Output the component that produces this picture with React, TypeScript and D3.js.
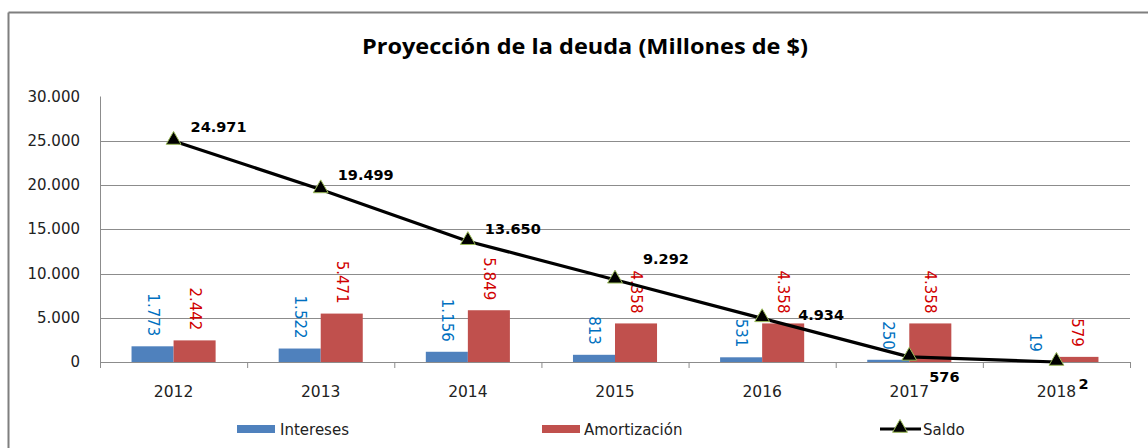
import React from "react";
import * as d3 from "d3";

const years = ["2012", "2013", "2014", "2015", "2016", "2017", "2018"];
const intereses = [1773, 1522, 1156, 813, 531, 250, 19];
const amortizacion = [2442, 5471, 5849, 4358, 4358, 4358, 579];
const saldo = [24971, 19499, 13650, 9292, 4934, 576, 2];
const yTicks = [0, 5000, 10000, 15000, 20000, 25000, 30000];

// label placement offsets for saldo labels (style only)
const saldoLabelOffsets: [number, number][] = [
  [17, -9], [17, -9], [17, -7], [28, -16], [36, 2], [20, 25], [22, 27],
];

const W = 1148;
const H = 448;
const fmt = (v: number) => d3.format(",")(v).replace(/,/g, ".");

export default function App() {
  const x = d3.scaleBand<string>().domain(years).range([100, 1130]).paddingInner(0).paddingOuter(0);
  const y = d3.scaleLinear().domain([0, 30000]).range([362, 96.5]);
  const bw = x.bandwidth();
  const barW = bw / 3.5;
  const cx = (yr: string) => (x(yr) as number) + bw / 2;
  const line = d3.line<number>().x((_, i) => cx(years[i])).y((d) => y(d));
  const tri = d3.symbol().type(d3.symbolTriangle).size(95)() as string;
  const font = "DejaVu Sans";
  const blue = "#4F81BD";
  const red = "#C0504D";
  const grid = "#8C8C8C";

  return (
    <svg width={W} height={H} style={{ position: "absolute", left: 0, top: 0, background: "#fff" }}>
      <rect x={0} y={0} width={W} height={H} fill="#fff" />
      {/* outer frame */}
      <line x1={8.5} y1={12.5} x2={W} y2={12.5} stroke="#7F7F7F" strokeWidth={2} />
      <line x1={8.5} y1={12.5} x2={8.5} y2={H} stroke="#7F7F7F" strokeWidth={2} />

      <text x={585} y={54} textAnchor="middle" fontFamily="Open Sans" fontWeight={700} fontSize={21}
        textLength={446} lengthAdjust="spacingAndGlyphs" fill="#000">
        Proyección de la deuda (Millones de $)
      </text>

      {/* gridlines */}
      {yTicks.filter((t) => t > 0 && t < 30000).map((t) => (
        <line key={t} x1={100} x2={1130} y1={Math.round(y(t)) + 0.5} y2={Math.round(y(t)) + 0.5} stroke={grid} strokeWidth={1} />
      ))}
      {/* y tick labels */}
      {yTicks.map((t) => (
        <text key={t} x={80} y={y(t) + 5} textAnchor="end" fontFamily={font} fontSize={15} fill="#222">
          {fmt(t)}
        </text>
      ))}
      {/* y axis */}
      <line x1={100.5} x2={100.5} y1={96.5} y2={368} stroke={grid} strokeWidth={1} />

      {/* bars */}
      {years.map((yr, i) => {
        const x0 = (x(yr) as number) + (bw - 2 * barW) / 2;
        return (
          <g key={yr}>
            <rect x={x0} y={y(intereses[i])} width={barW} height={y(0) - y(intereses[i])} fill={blue} />
            <rect x={x0 + barW} y={y(amortizacion[i])} width={barW} height={y(0) - y(amortizacion[i])} fill={red} />
          </g>
        );
      })}

      {/* x axis */}
      <line x1={100} x2={1130} y1={362.5} y2={362.5} stroke={grid} strokeWidth={1} />
      {years.map((yr) => (
        <line key={yr} x1={(x(yr) as number) + bw + 0.5} x2={(x(yr) as number) + bw + 0.5} y1={362} y2={368} stroke={grid} />
      ))}
      {years.map((yr) => (
        <text key={yr} x={cx(yr)} y={397} textAnchor="middle" fontFamily={font} fontSize={15.5} fill="#222">
          {yr}
        </text>
      ))}

      {/* bar labels (rotated) */}
      {years.map((yr, i) => {
        const x0 = (x(yr) as number) + (bw - 2 * barW) / 2;
        const bx = x0 + barW / 2;
        const rx = x0 + barW * 1.5;
        const by = y(intereses[i]) - 10;
        const ry = y(amortizacion[i]) - 10;
        return (
          <g key={yr}>
            <text transform={`translate(${bx},${by}) rotate(90)`} textAnchor="end" dominantBaseline="central"
              fontFamily={font} fontSize={15} fill="#0070C0">{fmt(intereses[i])}</text>
            <text transform={`translate(${rx},${ry}) rotate(90)`} textAnchor="end" dominantBaseline="central"
              fontFamily={font} fontSize={15} fill="#D00000">{fmt(amortizacion[i])}</text>
          </g>
        );
      })}

      {/* saldo line */}
      <path d={line(saldo) as string} fill="none" stroke="#000" strokeWidth={3.2} strokeLinejoin="round" />
      {saldo.map((v, i) => (
        <path key={i} d={tri} transform={`translate(${cx(years[i])},${y(v) - 1})`} fill="#000" stroke="#9BBB59" strokeWidth={1} />
      ))}
      {saldo.map((v, i) => (
        <text key={i} x={cx(years[i]) + saldoLabelOffsets[i][0]} y={y(v) + saldoLabelOffsets[i][1]}
          fontFamily={font} fontWeight={700} fontSize={14.5} fill="#000">{fmt(v)}</text>
      ))}

      {/* legend */}
      <rect x={237} y={425} width={38} height={8} fill={blue} />
      <text x={280} y={435} fontFamily={font} fontSize={15} fill="#222">Intereses</text>
      <rect x={542} y={425} width={38} height={8} fill={red} />
      <text x={584} y={435} fontFamily={font} fontSize={15} fill="#222">Amortización</text>
      <line x1={880} x2={921} y1={429} y2={429} stroke="#000" strokeWidth={3} />
      <path d={tri} transform="translate(900,428)" fill="#000" stroke="#9BBB59" strokeWidth={1} />
      <text x={923} y={435} fontFamily={font} fontSize={15} fill="#222">Saldo</text>
    </svg>
  );
}
